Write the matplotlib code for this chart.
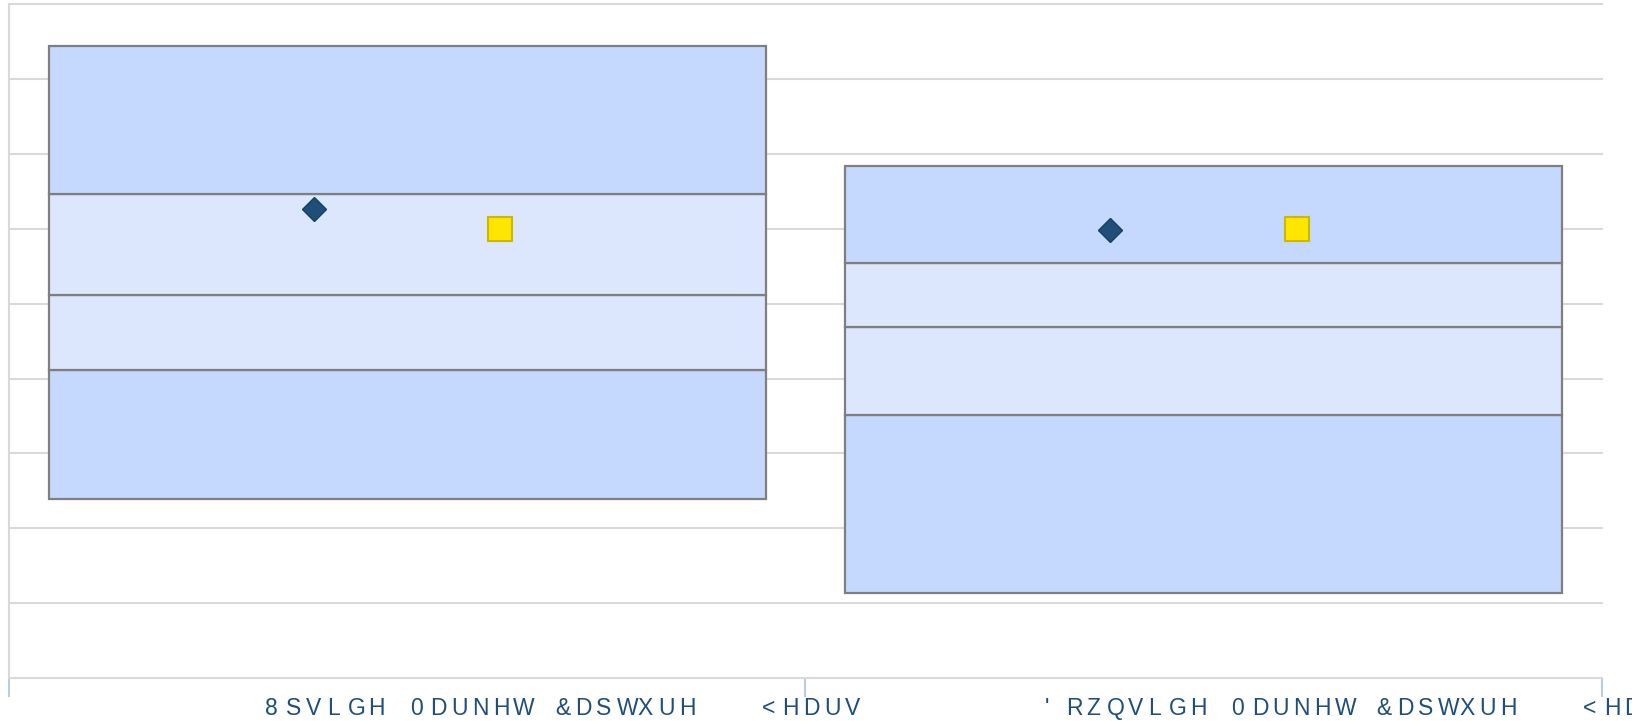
import matplotlib
matplotlib.use("Agg")
import matplotlib.pyplot as plt
from matplotlib.lines import Line2D

# box edges for each category (low, q1, median, q3, high)
categories = ["8SVLGH 0DUNHW &DSWXUH   <HDUV", "'RZQVLGH 0DUNHW &DSWXUH   <HDUV"]
low = [23.9, 11.4]
q1 = [41.2, 35.2]
median = [51.2, 46.9]
q3 = [64.7, 55.5]
high = [84.4, 68.4]
diamond_vals = [62.6, 59.8]
square_vals = [60.0, 60.0]

W, H = 1633, 721
fig = plt.figure(figsize=(W / 100, H / 100), dpi=100)
ax = fig.add_axes([8.7 / W, 1 - 678 / H, (1602 - 8.7) / W, (678 - 4.3) / H])

outer_c = "#c5d8fe"
inner_c = "#dce6fd"
edge_c = "#7f7f7f"
grid_c = "#d9d9d9"

# grid lines
for g in range(10, 91, 10):
    ax.axhline(g, color=grid_c, lw=1.5, zorder=0, clip_on=False)

x = list(range(len(categories)))
segs = [(low, q1, outer_c), (q1, median, inner_c), (median, q3, inner_c), (q3, high, outer_c)]
for lo, hi, col in segs:
    heights = [h - l for l, h in zip(lo, hi)]
    ax.bar(x, heights, bottom=lo, width=0.9, color=col, edgecolor=edge_c, linewidth=1.6, zorder=2)

ax.plot([i - 0.117 for i in x], diamond_vals, "D", ms=12.5, color="#1f4e79",
        markeredgecolor="#173f63", markeredgewidth=1, ls="none", zorder=4)
ax.plot([i + 0.117 for i in x], square_vals, "s", ms=17, color="#ffe600",
        markeredgecolor="#cdb800", markeredgewidth=1.5, ls="none", zorder=4)

ax.set_xlim(-0.5, 1.5)
ax.set_ylim(0, 90)
ax.set_yticks([])
ax.set_xticks([-0.5, 0.5, 1.5])
ax.set_xticklabels([])
ax.tick_params(axis="x", length=13.5, width=1.5, color="#bccbdd", direction="out")
for s in ["top", "right", "left"]:
    ax.spines[s].set_visible(False)
ax.spines["bottom"].set_color(grid_c)
ax.spines["bottom"].set_linewidth(1.5)

# left axis line
fig.add_artist(Line2D([8.7 / W, 8.7 / W], [1 - 4.3 / H, 1 - 678 / H], color=grid_c, lw=1.5))

# category labels, drawn one glyph at a time for the wide spacing
starts = [265, 1045]
pitch = 20.7
for lab, x0 in zip(categories, starts):
    for j, ch in enumerate(lab):
        if ch == " ":
            continue
        fig.text((x0 + j * pitch) / W, 1 - 715 / H, ch, ha="left", va="baseline",
                 fontsize=16.5, color="#1f4e79",
                 family=["Liberation Sans Narrow", "Liberation Sans"])

fig.savefig("out.png", dpi=100)
